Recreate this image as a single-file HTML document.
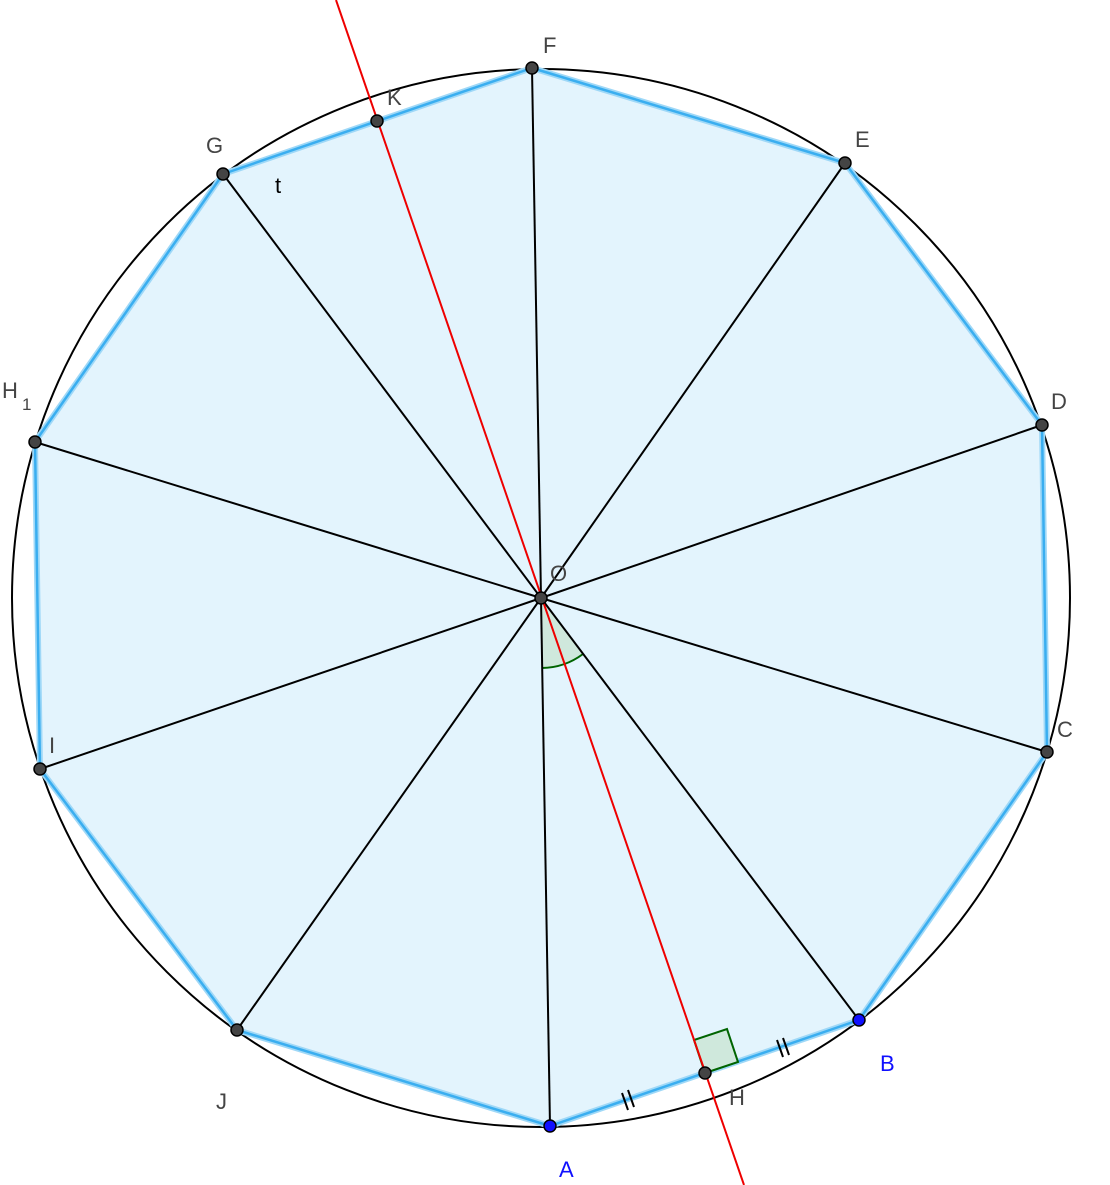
<!DOCTYPE html>
<html><head><meta charset="utf-8"><style>html,body{margin:0;padding:0;background:#fff}svg{display:block}</style></head><body>
<svg width="1110" height="1185" viewBox="0 0 1110 1185" xmlns="http://www.w3.org/2000/svg" font-family="Liberation Sans, sans-serif">
<circle cx="541" cy="598" r="529" fill="none" stroke="#000" stroke-width="2"/>
<polygon points="550,1126 859,1020 1047,752 1042,425 845,163 532,68 223,174 35,442 40,769 237,1030" fill="#e3f4fd" stroke="#9fd8f7" stroke-width="6" stroke-linejoin="round"/>
<polygon points="550,1126 859,1020 1047,752 1042,425 845,163 532,68 223,174 35,442 40,769 237,1030" fill="none" stroke="#3aaef0" stroke-width="2.5" stroke-linejoin="round"/>
<path d="M541,598 L542,668 A70,70 0 0 0 583,654 Z" fill="#cfe8dc" stroke="none"/>
<path d="M542,668 A70,70 0 0 0 583,654" fill="none" stroke="#006400" stroke-width="2"/>
<g stroke="#000" stroke-width="2">
<line x1="541" y1="598" x2="550" y2="1126"/><line x1="541" y1="598" x2="859" y2="1020"/>
<line x1="541" y1="598" x2="1047" y2="752"/><line x1="541" y1="598" x2="1042" y2="425"/>
<line x1="541" y1="598" x2="845" y2="163"/><line x1="541" y1="598" x2="532" y2="68"/>
<line x1="541" y1="598" x2="223" y2="174"/><line x1="541" y1="598" x2="35" y2="442"/>
<line x1="541" y1="598" x2="40" y2="769"/><line x1="541" y1="598" x2="237" y2="1030"/>
</g>
<polygon points="705,1073 738,1062 727,1029 694,1040" fill="#cfe8dc" stroke="#006400" stroke-width="2"/>
<line x1="336" y1="0" x2="744" y2="1185" stroke="#e00" stroke-width="2"/>
<g stroke="#000" stroke-width="2">
<line x1="622" y1="1093" x2="628" y2="1110"/><line x1="628" y1="1090" x2="634" y2="1107"/>
<line x1="777" y1="1040" x2="783" y2="1057"/><line x1="783" y1="1038" x2="789" y2="1055"/>
</g>
<g fill="#444" stroke="#000" stroke-width="1.5">
<circle cx="1047" cy="752" r="6"/><circle cx="1042" cy="425" r="6"/><circle cx="845" cy="163" r="6"/>
<circle cx="532" cy="68" r="6"/><circle cx="223" cy="174" r="6"/><circle cx="35" cy="442" r="6"/>
<circle cx="40" cy="769" r="6"/><circle cx="237" cy="1030" r="6"/><circle cx="541" cy="598" r="6"/>
<circle cx="705" cy="1073" r="6"/><circle cx="377" cy="121" r="6"/>
</g>
<g fill="#1010ff" stroke="#000" stroke-width="1.5">
<circle cx="550" cy="1126" r="6"/><circle cx="859" cy="1020" r="6"/>
</g>
<g font-size="22" fill="#444">
<text x="543" y="53">F</text><text x="387" y="105">K</text><text x="206" y="153">G</text>
<text x="855" y="147">E</text><text x="1051" y="409">D</text>
<text x="2" y="398">H</text><text x="22" y="410" font-size="17">1</text>
<text x="1057" y="737">C</text><text x="49" y="753">I</text><text x="216" y="1109">J</text>
<text x="729" y="1105">H</text><text x="550" y="581">O</text>
</g>
<text x="275" y="193" font-size="22" fill="#000">t</text>
<text x="559" y="1177" font-size="22" fill="#1010ff">A</text>
<text x="880" y="1071" font-size="22" fill="#1010ff">B</text>
</svg>
</body></html>
